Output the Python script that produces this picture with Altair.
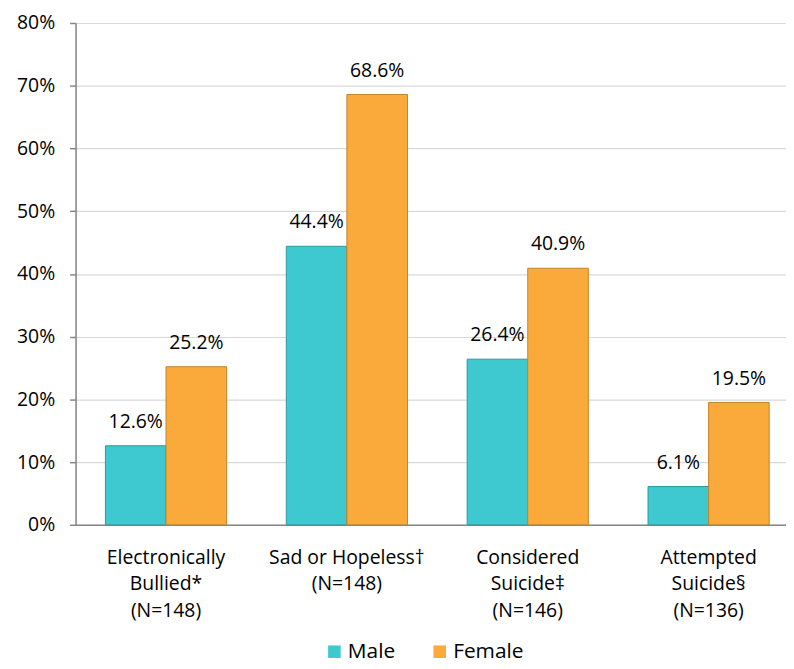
import altair as alt
import pandas as pd

categories = [
    "Electronically|Bullied*|(N=148)",
    "Sad or Hopeless†|(N=148)",
    "Considered|Suicide‡|(N=146)",
    "Attempted|Suicide§|(N=136)",
]
groups = ["Male", "Female"]
male = [0.126, 0.444, 0.264, 0.061]
female = [0.252, 0.686, 0.409, 0.195]
colors = ["#3DC9CF", "#FAAA3A"]
strokes = ["#2A9A9F", "#C2842A"]

rows = []
for c, m, f in zip(categories, male, female):
    rows.append({"cat": c, "g": "Male", "v": m})
    rows.append({"cat": c, "g": "Female", "v": f})
df = pd.DataFrame(rows)

FONT = "Open Sans"
FS = 19.5

x = alt.X(
    "cat:N",
    sort=categories,
    scale=alt.Scale(paddingInner=0.33, paddingOuter=0.129, align=0.64),
    axis=alt.Axis(
        title=None,
        labelExpr="split(datum.label, '|')",
        labelAngle=0,
        ticks=False,
        labelPadding=24,
        labelFontSize=FS,
        labelLineHeight=26.5,
        labelFont=FONT,
        labelColor="#000000",
        domainColor="#868686",
        domainWidth=1.5,
        grid=False,
    ),
)
xo = alt.XOffset("g:N", sort=groups, scale=alt.Scale(paddingInner=0, paddingOuter=0))
y = alt.Y(
    "v:Q",
    scale=alt.Scale(domain=[0, 0.8]),
    axis=alt.Axis(
        title=None,
        format=".0%",
        values=[0, 0.1, 0.2, 0.3, 0.4, 0.5, 0.6, 0.7, 0.8],
        labelFontSize=FS,
        labelFont=FONT,
        labelColor="#000000",
        labelPadding=15,
        tickSize=6,
        tickColor="#868686",
        tickWidth=1.5,
        domainColor="#868686",
        domainWidth=1.5,
        gridColor="#D9D9D9",
        gridWidth=1.2,
    ),
)
color = alt.Color(
    "g:N",
    sort=groups,
    scale=alt.Scale(domain=groups, range=colors),
    legend=alt.Legend(
        title=None,
        orient="none",
        legendX=250,
        legendY=622,
        direction="horizontal",
        symbolType="square",
        symbolSize=160,
        symbolStrokeWidth=0,
        labelFontSize=21,
        labelFont=FONT,
        labelColor="#000000",
        columnPadding=34,
        labelOffset=3,
    ),
)
stroke = alt.Stroke("g:N", sort=groups, scale=alt.Scale(domain=groups, range=strokes), legend=None)

bars = alt.Chart(df).mark_bar(strokeWidth=1).encode(x=x, xOffset=xo, y=y, color=color, stroke=stroke)
labels = alt.Chart(df).mark_text(dy=-24, fontSize=FS, font=FONT, color="#000000").encode(
    x=x, xOffset=xo, y="v:Q", text=alt.Text("v:Q", format=".1%")
)

chart = (
    alt.layer(bars, labels)
    .properties(width=715, height=505, padding={"left": 8, "top": 3, "right": 0, "bottom": 0})
    .configure_view(stroke=None)
    .configure(background="white")
)
chart.save("out.html", embed_options={"renderer": "svg", "actions": False})
